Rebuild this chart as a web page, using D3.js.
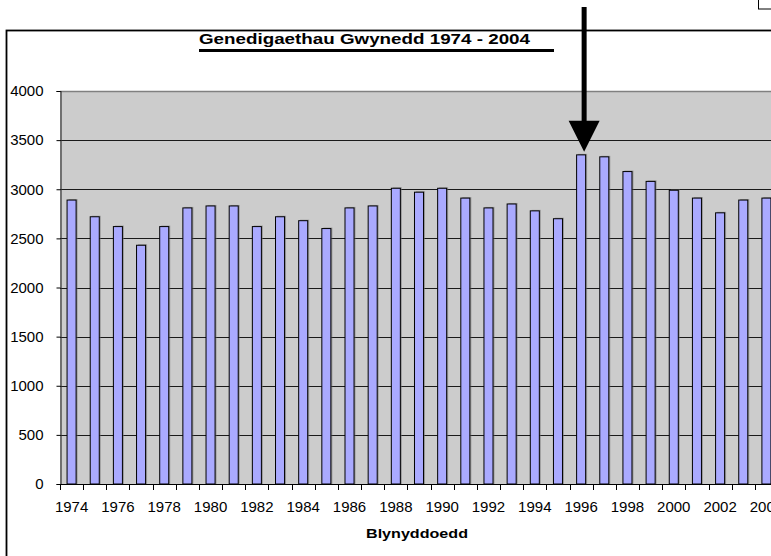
<!DOCTYPE html>
<html>
<head>
<meta charset="utf-8">
<script src="https://cdn.jsdelivr.net/npm/d3@7"></script>
<style>
  html, body { margin: 0; padding: 0; background: #ffffff; overflow: hidden; }
  svg { display: block; font-family: "Liberation Sans", Arial, sans-serif; }
</style>
</head>
<body>
<svg id="chart" width="771" height="556"></svg>
<script>
// ---- data ----
const years = ["1974","1975","1976","1977","1978","1979","1980","1981","1982","1983",
               "1984","1985","1986","1987","1988","1989","1990","1991","1992","1993",
               "1994","1995","1996","1997","1998","1999","2000","2001","2002","2003","2004"];
const births = [2890, 2720, 2620, 2430, 2620, 2810, 2830, 2830, 2620, 2720,
                2680, 2600, 2810, 2830, 3010, 2970, 3010, 2910, 2810, 2850,
                2780, 2700, 3350, 3330, 3180, 3080, 2990, 2910, 2760, 2890, 2910];
const yTicks = [0, 500, 1000, 1500, 2000, 2500, 3000, 3500, 4000];
const xTickLabels = ["1974","1976","1978","1980","1982","1984","1986","1988","1990",
                     "1992","1994","1996","1998","2000","2002","2004"];
const titleText = "Genedigaethau Gwynedd 1974 - 2004";
const xAxisTitle = "Blynyddoedd";
const highlightYear = "1996";

// ---- layout ----
const svg = d3.select("#chart");
const plot = { left: 60, right: 778, top: 91, bottom: 484 };

const x = d3.scaleBand().domain(years).range([plot.left, plot.right]).padding(0);
const y = d3.scaleLinear().domain([0, 4000]).range([plot.bottom, plot.top]);
const barW = x.bandwidth() * 0.39;

// chart area border
svg.append("rect")
  .attr("x", 6.5).attr("y", 30.5).attr("width", 820).attr("height", 560)
  .attr("fill", "#ffffff").attr("stroke", "#000").attr("stroke-width", 1.8);

// small box top-right
svg.append("rect")
  .attr("x", 758.5).attr("y", -2).attr("width", 20).attr("height", 11)
  .attr("fill", "#fff").attr("stroke", "#000").attr("stroke-width", 1);

// plot area
svg.append("rect")
  .attr("x", plot.left).attr("y", plot.top)
  .attr("width", plot.right - plot.left).attr("height", plot.bottom - plot.top)
  .attr("fill", "#cccccc");

// gridlines
svg.append("g").selectAll("line")
  .data(yTicks.filter(d => d > 0))
  .join("line")
  .attr("x1", plot.left).attr("x2", plot.right)
  .attr("y1", d => Math.round(y(d)) + 0.5).attr("y2", d => Math.round(y(d)) + 0.5)
  .attr("stroke", d => d === 4000 ? "#808080" : "#1a1a1a")
  .attr("stroke-width", d => d === 4000 ? 1.5 : 1);

// bar shadows
svg.append("g").selectAll("rect")
  .data(births)
  .join("rect")
  .attr("x", (d, i) => x(years[i]) + (x.bandwidth() - barW) / 2 + 1.5)
  .attr("y", d => y(d) - 1)
  .attr("width", barW)
  .attr("height", d => plot.bottom - y(d) + 1)
  .attr("fill", "#707070").attr("opacity", 0.55);

// bars
svg.append("g").selectAll("rect")
  .data(births)
  .join("rect")
  .attr("x", (d, i) => x(years[i]) + (x.bandwidth() - barW) / 2)
  .attr("y", d => y(d))
  .attr("width", barW)
  .attr("height", d => plot.bottom - y(d))
  .attr("fill", "#aaaaff").attr("stroke", "#000").attr("stroke-width", 1);

// y axis
const yAxis = d3.axisLeft(y).tickValues(yTicks).tickSize(4).tickPadding(13)
  .tickFormat(d3.format("d"));
const gy = svg.append("g").attr("transform", `translate(${plot.left + 0.5},0)`).call(yAxis);
gy.select(".domain").attr("stroke", "#333").attr("stroke-width", 1.2);
gy.selectAll(".tick line").attr("stroke", "#000");
gy.selectAll("text").attr("font-size", 15).attr("fill", "#000")
  .attr("font-family", "Liberation Sans, Arial, sans-serif");

// x axis (ticks at category boundaries)
svg.append("line")
  .attr("x1", plot.left).attr("x2", plot.right)
  .attr("y1", plot.bottom + 0.5).attr("y2", plot.bottom + 0.5)
  .attr("stroke", "#000").attr("stroke-width", 1.2);
const boundaries = years.map(yr => x(yr)).concat([x(years[years.length - 1]) + x.bandwidth()]);
svg.append("g").selectAll("line")
  .data(boundaries)
  .join("line")
  .attr("x1", d => Math.round(d) + 0.5).attr("x2", d => Math.round(d) + 0.5)
  .attr("y1", plot.bottom).attr("y2", plot.bottom + 6)
  .attr("stroke", "#000");
svg.append("g").selectAll("text")
  .data(xTickLabels)
  .join("text")
  .attr("x", d => x(d) + x.bandwidth() / 2)
  .attr("y", 512)
  .attr("text-anchor", "middle")
  .attr("font-size", 15)
  .attr("fill", "#000")
  .text(d => d);

// axis title
svg.append("text")
  .attr("x", 366).attr("y", 538)
  .attr("font-size", 13.5).attr("font-weight", "bold")
  .attr("textLength", 102).attr("lengthAdjust", "spacingAndGlyphs")
  .text(xAxisTitle);

// title with underline
svg.append("text")
  .attr("x", 199).attr("y", 44)
  .attr("font-size", 15).attr("font-weight", "bold")
  .attr("textLength", 331).attr("lengthAdjust", "spacingAndGlyphs")
  .text(titleText);
svg.append("rect")
  .attr("x", 199).attr("y", 49).attr("width", 355).attr("height", 3)
  .attr("fill", "#000");

// arrow pointing at highlighted year
const ax = x(highlightYear) + x.bandwidth() / 2 + 3;
const tipY = y(births[years.indexOf(highlightYear)]) - 3;
svg.append("rect")
  .attr("x", ax - 2.5).attr("y", 7).attr("width", 5).attr("height", tipY - 28 - 7)
  .attr("fill", "#000");
svg.append("path")
  .attr("d", `M${ax - 15.5},${tipY - 31} L${ax + 15.5},${tipY - 31} L${ax},${tipY} Z`)
  .attr("fill", "#000");
</script>
</body>
</html>
